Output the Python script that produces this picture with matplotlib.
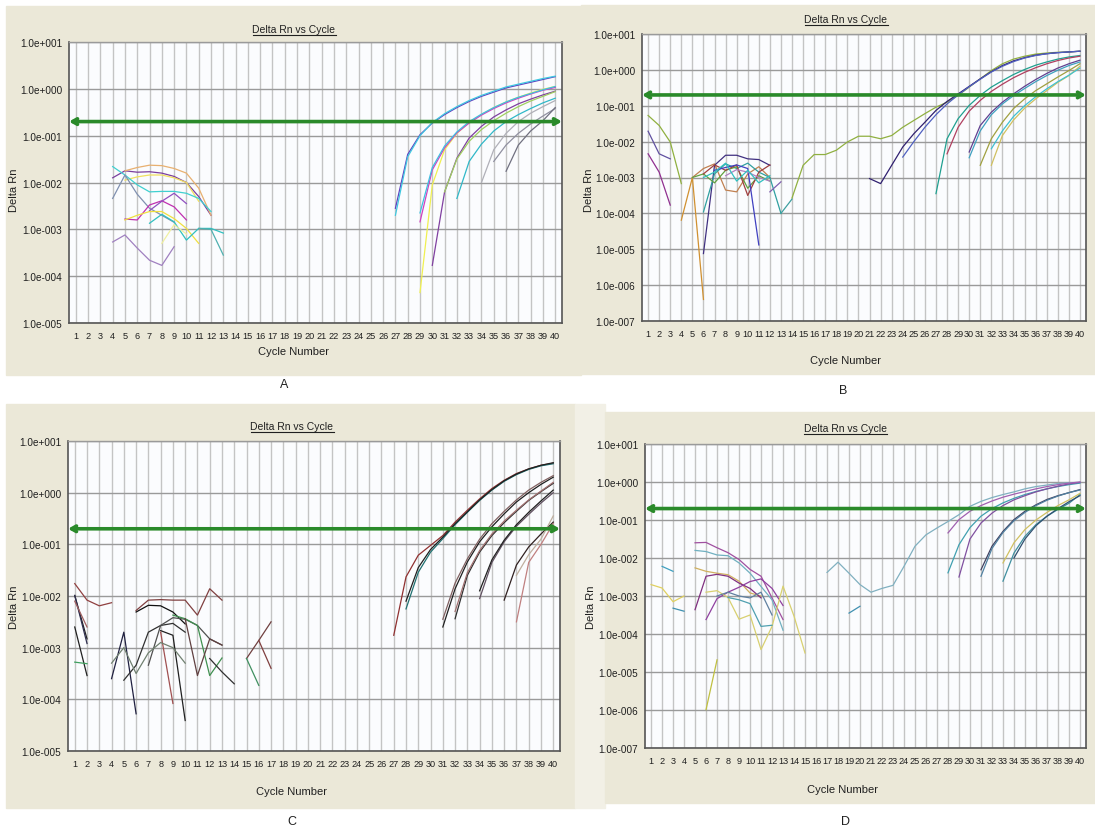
import matplotlib
matplotlib.use("Agg")
import matplotlib.pyplot as plt
import numpy as np
from matplotlib.patches import Rectangle
from matplotlib.lines import Line2D
from matplotlib.ticker import FixedLocator, FuncFormatter, NullLocator

# ---------------- data (log10 of Delta Rn, per curve: start cycle + values) -------------
cycles = list(range(1, 41))
threshold = 0.2

# Panel A
A_start = [4, 5, 5, 4, 4, 5, 7, 5, 7, 11, 4, 8,
           27, 27, 29, 29, 29, 30, 32, 35, 36, 31, 34]
A_log = [
    [-1.9, -1.75, -1.78, -1.77, -1.8, -1.87, -2.0, -2.3, -2.7],
    [-1.75, -1.68, -1.63, -1.64, -1.7, -1.8, -2.12, -2.7],
    [-1.95, -1.88, -1.84, -1.84, -1.9, -2.0, -2.4],
    [-1.66, -1.84, -2.05, -2.2, -2.19, -2.19, -2.23, -2.34, -2.62],
    [-2.34, -1.84, -2.25, -2.55, -2.7, -2.85],
    [-2.78, -2.8, -2.48, -2.39, -2.52, -2.8],
    [-2.6, -2.4, -2.23, -2.45],
    [-2.8, -2.7, -2.62, -2.62, -2.77, -2.98, -3.3],
    [-2.87, -2.68, -2.84, -3.23, -2.98, -2.98, -3.08],
    [-2.98, -3.0, -3.55],
    [-3.27, -3.12, -3.4, -3.66, -3.77, -3.37],
    [-3.3, -2.9, -3.1],
    [-2.55, -1.4, -0.98, -0.73, -0.55, -0.4, -0.27, -0.16, -0.07, 0.02, 0.08, 0.14, 0.2, 0.26],
    [-2.7, -1.45, -1.0, -0.72, -0.53, -0.38, -0.25, -0.14, -0.05, 0.04, 0.1, 0.16, 0.22, 0.27],
    [-4.35, -2.05, -1.3, -0.95, -0.72, -0.55, -0.4, -0.28, -0.18, -0.09, -0.01, 0.05],
    [-2.84, -1.73, -1.26, -0.94, -0.73, -0.56, -0.42, -0.3, -0.2, -0.11, -0.03, 0.03],
    [-2.65, -1.68, -1.22, -0.92, -0.7, -0.54, -0.4, -0.28, -0.18, -0.1, -0.02, 0.05],
    [-3.77, -2.2, -1.48, -1.05, -0.8, -0.6, -0.45, -0.32, -0.22, -0.13, -0.05],
    [-2.34, -1.55, -1.18, -0.9, -0.7, -0.55, -0.42, -0.3, -0.2],
    [-1.55, -1.2, -0.95, -0.75, -0.58, -0.42],
    [-1.76, -1.2, -0.9, -0.68, -0.4],
    [-2.2, -1.5, -1.12, -0.87, -0.68, -0.52, -0.38, -0.26, -0.16, -0.06],
    [-2.0, -1.3, -0.95, -0.7, -0.52, -0.38, -0.25],
]
A_col = ['#7b3f9e', '#e8b070', '#f0e060', '#40d0d0', '#8090b0', '#c030b0', '#9050c0',
         '#f0e040', '#30c0c0', '#50b0b0', '#a080c0', '#f0f0a0',
         '#6040c0', '#40c8e0', '#f0f050', '#d040c0', '#40c0e0', '#8040a0', '#30b8c8',
         '#9090a0', '#707080', '#a0d060', '#b0b0b8']

# Panel B
B_start = [1, 1, 1, 4, 5, 6, 6, 5, 6, 7, 12, 8, 6, 13,
           14, 21, 24, 27, 28, 30, 30, 31, 32, 32]
B_log = [
    [-1.27, -1.55, -2.01, -3.17],
    [-1.71, -2.34, -2.48],
    [-2.34, -2.85, -3.77],
    [-4.19, -3.0, -6.4],
    [-3.0, -2.75, -2.62, -3.35, -3.4, -2.9, -2.7, -3.0],
    [-5.12, -2.66, -2.38, -2.38, -2.48, -2.5, -2.66],
    [-3.96, -2.9, -2.62, -2.75, -2.6, -2.85, -3.0, -4.0],
    [-3.0, -2.9, -3.15, -2.8, -2.7, -3.3, -2.95, -3.1],
    [-2.9, -2.65, -2.8, -2.65, -3.5, -2.85, -2.65],
    [-2.8, -2.72, -2.65, -2.75, -4.88],
    [-3.4, -3.12],
    [-2.95, -2.78, -2.85, -3.0, -3.1],
    [-3.0, -2.85, -2.6, -3.1, -2.8, -3.15, -2.95],
    [-4.0, -3.6],
    [-3.57, -2.66, -2.36, -2.36, -2.24, -2.01, -1.85, -1.85, -1.92, -1.83, -1.6, -1.41, -1.22,
     -1.04, -0.9, -0.71, -0.48, -0.25, -0.02, 0.17, 0.3, 0.38, 0.44, 0.47, 0.49, 0.5, 0.52],
    [-3.03, -3.17, -2.66, -2.15, -1.78, -1.46, -1.13, -0.88, -0.67, -0.46, -0.25, -0.05, 0.12,
     0.25, 0.34, 0.41, 0.45, 0.48, 0.5, 0.52],
    [-2.43, -2.0, -1.6, -1.25, -0.95, -0.7, -0.47, -0.26, -0.06, 0.1, 0.23, 0.33, 0.4, 0.45,
     0.48, 0.5, 0.52],
    [-3.45, -1.92, -1.36, -0.99, -0.71, -0.48, -0.3, -0.13, 0.01, 0.13, 0.22, 0.3, 0.36, 0.4],
    [-2.34, -1.6, -1.15, -0.85, -0.6, -0.4, -0.22, -0.07, 0.06, 0.17, 0.26, 0.33, 0.38],
    [-2.29, -1.55, -1.18, -0.9, -0.67, -0.46, -0.27, -0.1, 0.05, 0.17, 0.27],
    [-2.45, -1.7, -1.25, -0.95, -0.72, -0.52, -0.33, -0.16, -0.01, 0.12, 0.22],
    [-2.66, -1.92, -1.46, -1.08, -0.81, -0.58, -0.39, -0.2, -0.02, 0.17],
    [-2.66, -1.83, -1.4, -1.07, -0.81, -0.58, -0.35, -0.16, 0.1],
    [-2.2, -1.7, -1.3, -1.0, -0.75, -0.53, -0.33, -0.15, 0.05],
]
B_col = ['#90b040', '#6050a0', '#903090', '#d09030', '#c08050', '#403080', '#30a0a0',
         '#60a040', '#a04040', '#4040c0', '#8060b0', '#b080c0', '#30c0c0', '#40a0a0',
         '#90b040', '#302070', '#5060c0', '#20a090', '#b04060', '#604090', '#40a0c0',
         '#a0a040', '#d0c060', '#40c0d0']

# Panel C
C_start = [1, 1, 1, 1, 1, 1, 4, 5, 6, 6, 7, 8, 8, 9, 10, 12, 15, 15, 16, 4,
           27, 28, 28, 31, 31, 32, 32, 34, 34, 36, 37, 37]
C_log = [
    [-1.76, -2.08, -2.19, -2.13],
    [-1.99, -2.83],
    [-1.99, -2.92],
    [-2.6, -3.54],
    [-3.28, -3.31],
    [-2.1, -2.6],
    [-3.6, -2.7, -4.28],
    [-3.63, -3.34, -2.7, -2.57, -2.53, -2.7],
    [-2.28, -2.08, -2.07, -2.08, -2.08, -2.37, -1.86, -2.08],
    [-2.31, -2.18, -2.19, -2.31, -2.54],
    [-3.34, -2.57, -2.42, -2.45, -2.57, -2.83, -2.95],
    [-2.67, -2.76, -4.41],
    [-2.7, -4.08],
    [-2.37, -2.44, -2.57, -3.54, -3.2],
    [-2.44, -3.54, -2.83, -2.95],
    [-3.21, -3.47, -3.7],
    [-3.21, -2.86, -2.5],
    [-3.21, -3.73],
    [-2.86, -3.4],
    [-3.3, -3.0, -3.5, -3.1, -2.9, -3.0, -3.3],
    [-2.76, -1.63, -1.21, -1.02, -0.83, -0.57, -0.34, -0.12, 0.08, 0.24, 0.37, 0.46, 0.53, 0.57],
    [-2.25, -1.54, -1.15, -0.89, -0.62, -0.38, -0.15, 0.05, 0.22, 0.35, 0.45, 0.52, 0.56],
    [-2.1, -1.45, -1.1, -0.86, -0.6, -0.37, -0.14, 0.06, 0.23, 0.36, 0.46, 0.53, 0.58],
    [-2.6, -1.86, -1.34, -0.95, -0.66, -0.41, -0.18, 0.0, 0.16, 0.3],
    [-2.45, -1.75, -1.28, -0.9, -0.6, -0.36, -0.14, 0.05, 0.2, 0.33],
    [-2.44, -1.6, -1.15, -0.83, -0.58, -0.36, -0.15, 0.02, 0.18],
    [-2.3, -1.55, -1.12, -0.8, -0.55, -0.34, -0.14, 0.03, 0.2],
    [-2.05, -1.35, -0.95, -0.65, -0.42, -0.2, 0.0],
    [-1.9, -1.3, -0.92, -0.62, -0.38, -0.16, 0.05],
    [-2.08, -1.4, -1.05, -0.8, -0.57],
    [-1.6, -1.2, -0.9, -0.45],
    [-2.5, -1.35, -1.0, -0.6],
]
C_col = ['#904040', '#202020', '#303050', '#202020', '#40a060', '#a06060', '#202040',
         '#303030', '#804040', '#101010', '#505050', '#202020', '#a05050', '#409050',
         '#604040', '#303030', '#704040', '#409060', '#804040', '#708070',
         '#903030', '#207070', '#202020', '#202020', '#806060', '#303030', '#a07070',
         '#605060', '#202020', '#302020', '#c0b0a0', '#c08080']

# Panel D
D_start = [1, 2, 3, 5, 5, 5, 5, 6, 6, 6, 8, 7, 19, 17,
           28, 29, 28, 31, 31, 33, 33, 34]
D_log = [
    [-2.7, -2.79, -3.15, -3.0],
    [-2.22, -2.35],
    [-3.32, -3.4],
    [-1.6, -1.59, -1.73, -1.86, -2.04, -2.3, -2.48, -3.05, -3.62],
    [-1.8, -1.83, -1.92, -1.94, -2.13, -2.4, -2.75, -3.1, -3.9],
    [-2.26, -2.35, -2.4, -2.44, -2.61, -2.92, -3.0],
    [-3.36, -2.48, -2.43, -2.48, -2.66, -2.8, -3.05],
    [-3.62, -3.07, -2.9, -2.77, -2.62, -2.55, -2.8, -3.25],
    [-5.99, -4.68],
    [-2.9, -2.86, -3.04, -3.61, -3.5, -4.41, -3.8, -2.74, -3.53, -4.5],
    [-3.04, -3.1, -3.2, -3.8, -3.77],
    [-3.0, -2.9, -3.0, -3.05, -2.9, -3.5],
    [-3.45, -3.27],
    [-2.38, -2.11, -2.4, -2.7, -2.9, -2.8, -2.72, -2.22, -1.69, -1.39, -1.21, -1.04, -0.86,
     -0.64, -0.51, -0.41, -0.33, -0.26, -0.18, -0.12, -0.08, -0.04, -0.02, -0.01],
    [-2.39, -1.65, -1.2, -0.9, -0.7, -0.55, -0.43, -0.33, -0.25, -0.18, -0.12, -0.07, -0.03],
    [-2.5, -1.5, -1.08, -0.82, -0.62, -0.47, -0.36, -0.26, -0.18, -0.11, -0.05, -0.01],
    [-1.34, -0.99, -0.77, -0.62, -0.5, -0.4, -0.32, -0.25, -0.18, -0.12, -0.07, -0.03, 0.0],
    [-2.31, -1.69, -1.3, -0.99, -0.77, -0.6, -0.46, -0.36, -0.28, -0.2],
    [-2.48, -1.75, -1.33, -1.02, -0.8, -0.62, -0.48, -0.37, -0.28, -0.21],
    [-2.61, -1.87, -1.43, -1.12, -0.9, -0.72, -0.56, -0.33],
    [-2.13, -1.6, -1.25, -1.0, -0.8, -0.62, -0.47, -0.3],
    [-2.0, -1.5, -1.15, -0.9, -0.7, -0.52, -0.36],
]
D_col = ['#e0d060', '#40a0c0', '#4090b0', '#a050a0', '#70b0c0', '#d0b060', '#803080',
         '#9040a0', '#c0c040', '#d8d070', '#50a0b0', '#6080a0', '#4090b0', '#80b0c0',
         '#40a0b0', '#8050a0', '#a060b0', '#404060', '#5080a0', '#4090a0', '#d0c060',
         '#305070']

panel_letters = ['A', 'B', 'C', 'D']

# ---------------- figure ----------------
W, H = 1095, 829
fig = plt.figure(figsize=(W / 100, H / 100), dpi=100)
fig.patch.set_facecolor('white')
FONT = ['Liberation Sans', 'DejaVu Sans']
BEIGE = '#ebe8d8'


def frect(x0, y0, x1, y1, color):
    fig.patches.append(Rectangle((x0 / W, 1 - y1 / H), (x1 - x0) / W, (y1 - y0) / H,
                                 transform=fig.transFigure, color=color, zorder=-10))


frect(6, 7, 581, 376, BEIGE)
frect(581, 6, 1095, 375, BEIGE)
frect(6, 405, 575, 809, BEIGE)
frect(575, 405, 605, 809, '#f2f0e6')
frect(605, 413, 1095, 804, BEIGE)

# layout: (axes box l,t,r,b), decades, title xy, xlabel xy, ylabel xy, letter xy
layout = [
    dict(box=(69, 43, 562, 324), dec=(-5, 1), title=(294, 30), xl=(294, 352), yl=(14, 190), let=(284, 385)),
    dict(box=(642, 35, 1086, 322), dec=(-7, 1), title=(846, 20), xl=(846, 361), yl=(589, 190), let=(843, 391)),
    dict(box=(68, 442, 560, 752), dec=(-5, 1), title=(292, 427), xl=(292, 792), yl=(14, 607), let=(292, 822)),
    dict(box=(645, 445, 1086, 749), dec=(-7, 1), title=(845, 429), xl=(843, 790), yl=(591, 607), let=(845, 822)),
]
data = [(A_start, A_log, A_col), (B_start, B_log, B_col),
        (C_start, C_log, C_col), (D_start, D_log, D_col)]


def fmt(v, pos):
    e = int(round(np.log10(v)))
    return "1.0e%s%03d" % ('+' if e >= 0 else '-', abs(e))


titles = []
for lay, (starts, logs, cols), letter in zip(layout, data, panel_letters):
    l, t, r, b = lay['box']
    ax = fig.add_axes([l / W, 1 - b / H, (r - l) / W, (b - t) / H])
    ax.set_facecolor('#fbfcfe')
    ax.set_yscale('log')
    d0, d1 = lay['dec']
    ax.set_ylim(10.0 ** d0, 10.0 ** d1)
    ax.set_xlim(0.45, 40.55)
    ax.xaxis.set_major_locator(FixedLocator(cycles))
    ax.set_xticklabels([str(c) for c in cycles])
    ax.yaxis.set_major_locator(FixedLocator([10.0 ** k for k in range(d0, d1 + 1)]))
    ax.yaxis.set_minor_locator(NullLocator())
    ax.yaxis.set_major_formatter(FuncFormatter(fmt))
    ax.tick_params(length=0, colors='#202020')
    ax.tick_params(axis='x', pad=6, labelsize=6.6)
    ax.tick_params(axis='y', pad=5, labelsize=7.2)
    for lab in ax.get_xticklabels() + ax.get_yticklabels():
        lab.set_family(FONT)
    ax.grid(axis='x', color='#c4c4c4', lw=1.0, zorder=0)
    ax.grid(axis='y', color='#9a9a9a', lw=1.0, zorder=0)
    for side in ['left', 'bottom', 'right']:
        ax.spines[side].set_color('#555555')
        ax.spines[side].set_linewidth(1.2)
    ax.spines['top'].set_color('#9a9a9a')
    ax.spines['top'].set_linewidth(1.0)

    for s, lv, c in zip(starts, logs, cols):
        xs = np.arange(s, s + len(lv))
        ax.plot(xs, 10.0 ** np.array(lv), color=c, lw=0.9, zorder=3)

    ax.annotate('', xy=(1.0, threshold), xytext=(0.0, threshold),
                xycoords=('axes fraction', 'data'), textcoords=('axes fraction', 'data'),
                arrowprops=dict(arrowstyle='<->,head_length=0.35,head_width=0.2',
                                color='#2a8a2a', lw=2.6, shrinkA=0, shrinkB=0), zorder=5,
                annotation_clip=False)

    tt = fig.text(lay['title'][0] / W, 1 - lay['title'][1] / H, 'Delta Rn vs Cycle',
                  ha='center', va='center', fontsize=7.5, family=FONT, color='#202020')
    titles.append(tt)
    fig.text(lay['xl'][0] / W, 1 - lay['xl'][1] / H, 'Cycle Number', ha='center', va='center',
             fontsize=8, family=FONT, color='#202020')
    fig.text(lay['yl'][0] / W, 1 - lay['yl'][1] / H, 'Delta Rn', ha='center', va='center',
             rotation=90, fontsize=8, family=FONT, color='#202020')
    fig.text(lay['let'][0] / W, 1 - lay['let'][1] / H, letter, ha='center', va='center',
             fontsize=9, family=FONT, color='#202020')

# underline titles
fig.canvas.draw()
rend = fig.canvas.get_renderer()
for tt in titles:
    bb = tt.get_window_extent(rend)
    y = (bb.y0 - 1) / fig.bbox.height
    fig.lines.append(Line2D([bb.x0 / fig.bbox.width, bb.x1 / fig.bbox.width], [y, y],
                            transform=fig.transFigure, color='#202020', lw=0.8))

fig.savefig('out.png', dpi=100)
